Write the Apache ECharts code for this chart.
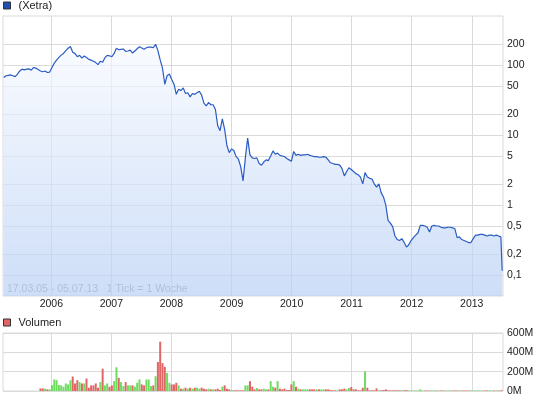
<!DOCTYPE html>
<html>
<head>
<meta charset="utf-8">
<script src="https://cdn.jsdelivr.net/npm/echarts@6/dist/echarts.min.js"></script>
<style>
  html, body { margin: 0; padding: 0; background: #fff; }
  #chart { width: 545px; height: 401px; }
</style>
</head>
<body>
<div id="chart"></div>
<script>
// Kursdaten, 2-Wochen-Schritte ab 17.03.05, letzter Wert am 05.07.13
const startDate = new Date(2005, 2, 17).getTime();
const endDate = new Date(2013, 6, 5).getTime();
const stepDays = 14;

const price = [
  66, 70, 71, 72, 70, 68, 74, 82, 87, 85,
  87, 88, 84, 92, 90, 86, 82, 80, 82, 78,
  79, 92, 106, 117, 128, 138, 146, 160, 173, 183,
  152, 145, 131, 137, 125, 134, 128, 120, 117, 113,
  108, 101, 113, 109, 127, 137, 135, 131, 146, 173,
  165, 167, 169, 156, 158, 163, 148, 158, 170, 182,
  175, 168, 176, 180, 180, 176, 197, 160, 118, 90,
  53, 70, 74, 62, 53, 38, 45, 43, 47, 39,
  40, 35, 39, 38, 40, 42, 37, 28.5, 26, 29,
  27, 27, 23, 13.5, 11.5, 17, 12, 7, 5.6, 6.3,
  6.0, 4.9, 4.5, 3.5, 2.2, 4.7, 9.0, 5.2, 4.7, 4.6,
  4.7, 3.9, 3.7, 4.1, 4.4, 4.3, 5.0, 5.9, 5.3, 5.5,
  5.1, 5.0, 4.9, 4.6, 4.4, 4.2, 5.8, 5.1, 5.3, 5.1,
  5.2, 5.2, 5.3, 5.1, 5.0, 4.9, 4.9, 4.8, 4.8, 4.9,
  4.8, 4.4, 4.0, 3.9, 3.8, 3.8, 3.7, 3.3, 2.6, 3.0,
  3.4, 3.2, 3.0, 2.8, 2.7, 2.5, 2.0, 2.9, 2.5, 2.4,
  2.35, 2.0, 1.8, 2.0, 1.5, 1.3, 1.0, 0.6, 0.55, 0.49,
  0.36, 0.32, 0.31, 0.33, 0.29, 0.25, 0.27, 0.31, 0.34, 0.37,
  0.40, 0.51, 0.51, 0.50, 0.48, 0.41, 0.50, 0.51, 0.50, 0.50,
  0.48, 0.47, 0.47, 0.48, 0.48, 0.47, 0.46, 0.34, 0.35, 0.32,
  0.31, 0.30, 0.29, 0.29, 0.33, 0.37, 0.37, 0.38, 0.38, 0.37,
  0.36, 0.37, 0.37, 0.36, 0.37, 0.36, 0.35,
  0.115
];

// Volumen in Mio. Stück
const volume = [
  0, 0, 0, 0, 0, 0, 0, 0, 0, 0,
  0, 0, 0, 0, 0, 0, 27, 27, 24, 17,
  17, 60, 119, 112, 62, 58, 44, 78, 68, 112,
  150, 78, 112, 92, 78, 78, 129, 34, 58, 58,
  78, 34, 92, 231, 58, 78, 44, 58, 102, 245,
  136, 92, 51, 92, 58, 58, 58, 44, 85, 119,
  68, 58, 119, 119, 51, 58, 153, 300, 510, 289,
  250, 187, 85, 68, 68, 85, 58, 24, 24, 34,
  24, 34, 24, 34, 34, 24, 34, 24, 17, 24,
  17, 17, 17, 24, 10, 44, 58, 24, 17, 10,
  7, 7, 7, 7, 7, 58, 58, 102, 44, 17,
  31, 17, 17, 24, 17, 17, 102, 44, 34, 102,
  24, 17, 24, 10, 10, 68, 102, 44, 24, 17,
  17, 17, 17, 17, 17, 17, 17, 17, 17, 17,
  17, 17, 10, 7, 7, 7, 17, 17, 24, 17,
  31, 41, 17, 17, 7, 7, 34, 204, 34, 7,
  7, 7, 27, 7, 7, 10, 17, 7, 7, 7,
  7, 7, 7, 7, 7, 10, 5, 5, 5, 5,
  5, 17, 5, 5, 5, 5, 5, 5, 5, 5,
  5, 5, 5, 5, 5, 5, 5, 5, 5, 5,
  5, 5, 5, 5, 5, 5, 5, 5, 5, 5,
  5, 5, 5, 5, 5, 5, 5,
  5
];

const years = [2006, 2007, 2008, 2009, 2010, 2011, 2012, 2013];
const priceTicks = [0.1, 0.2, 0.5, 1, 2, 5, 10, 20, 50, 100, 200];
const volumeMax = 600;

const FONT = '"Liberation Sans", Arial, sans-serif';
const gridColor = '#dadada';
const upColor = '#6edc5f';
const downColor = '#e06666';

const dates = price.map(function (p, i) {
  return i === price.length - 1 ? endDate : startDate + i * stepDays * 86400000;
});
const yearTicks = years.map(function (y) { return new Date(y, 0, 1).getTime(); });

const priceData = dates.map(function (d, i) { return [d, price[i]]; });
const volumeData = dates.map(function (d, i) {
  const up = i === 0 || price[i] >= price[i - 1];
  return { value: [d, volume[i]], itemStyle: { color: up ? upColor : downColor } };
});

var myChart = echarts.init(document.getElementById('chart'), null, { renderer: 'canvas' });

// Zeitachse als Wertachse (ms), Jahresanfang als Gitterlinien
function xAxisConf (gridIndex, showLabel) {
  return {
    type: 'value',
    gridIndex: gridIndex,
    min: new Date(2005, 2, 13).getTime(),
    max: new Date(2013, 6, 10).getTime(),
    axisLine: { show: false },
    axisTick: { show: false, customValues: yearTicks },
    axisLabel: {
      show: showLabel,
      customValues: yearTicks,
      formatter: function (v) { return String(new Date(v).getFullYear()); },
      fontSize: 10.5,
      color: '#222',
      margin: 3,
      fontFamily: FONT
    },
    splitLine: { show: true, lineStyle: { color: gridColor, width: 1 } }
  };
}

let option = {
  animation: false,
  textStyle: { fontFamily: FONT },
  grid: [
    { left: 3, right: 42, top: 16, height: 280, show: true, borderColor: gridColor, borderWidth: 1 },
    { left: 3, right: 42, top: 333, height: 58, show: true, borderColor: gridColor, borderWidth: 1 }
  ],
  legend: [
    {
      data: ['(Xetra)'], left: 3, top: 0, padding: 0,
      icon: 'rect', itemWidth: 7, itemHeight: 7,
      itemStyle: { borderColor: '#333', borderWidth: 1 },
      textStyle: { fontSize: 11, color: '#222', fontFamily: FONT, padding: [0, 0, 0, 3] }
    },
    {
      data: ['Volumen'], left: 3, top: 317, padding: 0,
      icon: 'rect', itemWidth: 7, itemHeight: 7,
      itemStyle: { borderColor: '#333', borderWidth: 1 },
      textStyle: { fontSize: 11, color: '#222', fontFamily: FONT, padding: [0, 0, 0, 3] }
    }
  ],
  xAxis: [xAxisConf(0, true), xAxisConf(1, false)],
  yAxis: [
    {
      type: 'log',
      gridIndex: 0,
      position: 'right',
      logBase: 10,
      min: 0.05,
      max: 500,
      axisLine: { show: false },
      axisTick: { show: false, customValues: priceTicks },
      axisLabel: {
        customValues: priceTicks,
        formatter: function (v) { return String(Number(Number(v).toPrecision(3))).replace('.', ','); },
        fontSize: 10.5,
        color: '#222',
        margin: 4,
        fontFamily: FONT
      },
      splitLine: { show: true, lineStyle: { color: gridColor, width: 1 } }
    },
    {
      type: 'value',
      gridIndex: 1,
      position: 'right',
      min: 0,
      max: volumeMax,
      interval: 200,
      axisLine: { show: false },
      axisTick: { show: false },
      axisLabel: { formatter: '{value}M', fontSize: 10.5, color: '#222', margin: 4, fontFamily: FONT },
      splitLine: { show: true, lineStyle: { color: gridColor, width: 1 } }
    }
  ],
  graphic: [
    {
      type: 'text', left: 7, top: 284, silent: true,
      style: { text: '17.03.05 - 05.07.13   1 Tick = 1 Woche', fill: '#999999', font: '10.5px ' + FONT }
    }
  ],
  series: [
    {
      name: '(Xetra)',
      type: 'line',
      xAxisIndex: 0,
      yAxisIndex: 0,
      data: priceData,
      symbol: 'none',
      showSymbol: false,
      itemStyle: { color: '#1f4fb3' },
      lineStyle: { color: '#2a5cc4', width: 1.2 },
      areaStyle: {
        origin: 'start',
        color: new echarts.graphic.LinearGradient(0, 0, 0, 1, [
          { offset: 0, color: '#f6f9fe' },
          { offset: 1, color: '#b8cff4' }
        ])
      },
      z: 3
    },
    {
      name: 'Volumen',
      type: 'bar',
      xAxisIndex: 1,
      yAxisIndex: 1,
      data: volumeData,
      barWidth: 2,
      itemStyle: { color: downColor }
    }
  ]
};
myChart.setOption(option);
</script>
</body>
</html>
